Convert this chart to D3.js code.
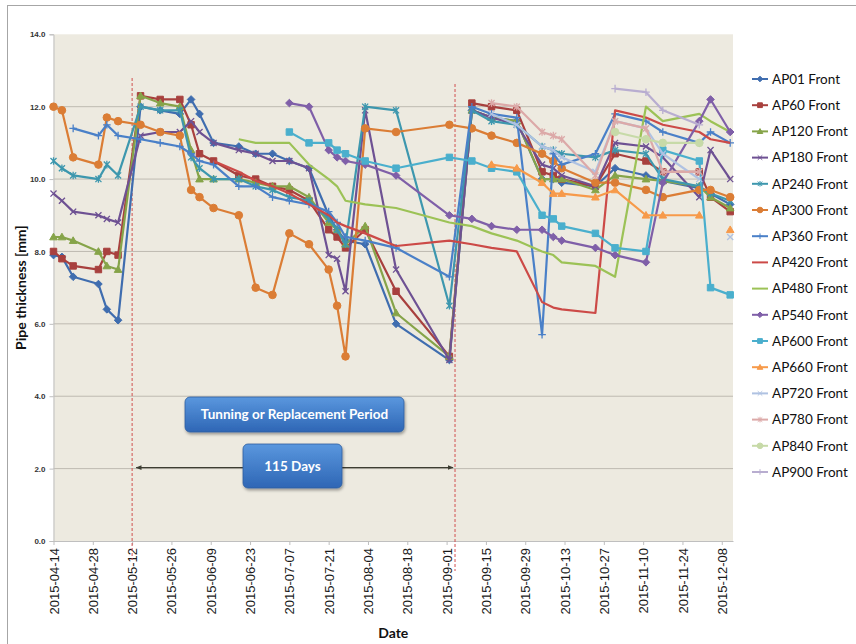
<!DOCTYPE html>
<html>
<head>
<meta charset="utf-8">
<script src="https://cdn.jsdelivr.net/npm/d3@7"></script>
<style>
body{margin:0;background:#fff;}
svg{display:block;}
</style>
</head>
<body>
<div id="chart"></div>
<script>
// measurement dates (shared by all series)
const dates = ["2015-04-14","2015-04-17","2015-04-21","2015-04-30","2015-05-03","2015-05-07",
  "2015-05-15","2015-05-22","2015-05-29","2015-06-02","2015-06-05","2015-06-10",
  "2015-06-19","2015-06-25","2015-07-01","2015-07-07","2015-07-14","2015-07-21",
  "2015-07-24","2015-07-27","2015-08-03","2015-08-14","2015-09-02","2015-09-10",
  "2015-09-17","2015-09-26","2015-10-05","2015-10-09","2015-10-12","2015-10-24",
  "2015-10-31","2015-11-11","2015-11-17","2015-11-30","2015-12-04","2015-12-11"];

const _ = null;
const AP01  = [7.9,7.85,7.3,7.1,6.4,6.1, 12.0,11.9,11.8,12.2,11.8,11.0, 10.9,10.7,10.7,10.5,10.3,9.0, 8.6,8.3,8.2,6.0,5.0,11.9, 11.7,11.6,10.0,10.0,9.9,9.8, 10.3,10.1,9.95,9.75,9.6,9.3];
const AP60  = [8.0,7.8,7.6,7.5,8.0,7.9, 12.3,12.2,12.2,11.5,10.7,10.5, 10.1,10.0,9.8,9.7,9.4,8.6, 8.4,8.1,8.6,6.9,5.1,12.1, 12.0,11.9,10.2,10.1,10.0,9.8, 10.7,10.5,10.2,10.2,9.5,9.1];
const AP120 = [8.4,8.4,8.3,8.0,7.6,7.5, 12.3,12.1,12.0,10.8,10.0,10.0, 10.0,9.9,9.8,9.8,9.5,8.8, 8.6,8.2,8.7,6.3,5.1,11.9, 11.7,11.6,10.0,10.0,10.0,9.7, 10.1,10.0,9.95,9.8,9.5,9.2];
const AP180 = [9.6,9.4,9.1,9.0,8.9,8.8, 11.2,11.3,11.3,11.6,11.3,11.0, 10.8,10.7,10.5,10.5,10.3,7.9, 7.8,6.9,11.9,7.5,5.0,11.9, 11.7,11.5,10.4,10.3,10.1,9.8, 11.0,10.9,10.6,9.5,10.8,10.0];
const AP240 = [10.5,10.3,10.1,10.0,10.4,10.1, 12.0,11.9,11.9,10.6,10.3,10.0, 10.0,9.8,9.7,9.5,9.4,8.9, 8.6,8.2,12.0,11.9,6.5,11.9, 11.6,11.5,10.9,10.8,10.7,10.6, 10.8,10.7,10.0,9.8,9.6,9.4];
const AP300 = [12.0,11.9,10.6,10.4,11.7,11.6, 11.5,11.3,11.2,9.7,9.5,9.2, 9.0,7.0,6.8,8.5,8.2,7.5, 6.5,5.1,11.4,11.3,11.5,11.4, 11.2,11.0,10.7,10.5,10.3,9.9, 9.9,9.7,9.5,9.7,9.7,9.5];
const AP360 = [_,_,11.4,11.2,11.5,11.2, 11.1,11.0,10.9,10.7,10.5,10.4, 9.8,9.8,9.5,9.4,9.3,9.1, 8.8,8.4,8.3,8.1,7.3,12.0, 11.8,11.7,5.7,10.7,10.4,10.7, 11.8,11.6,11.3,11.0,11.3,11.0];
const AP420 = [_,_,_,_,_,_, _,_,_,_,_,10.5, 10.2,9.95,9.8,9.6,9.3,9.0, 8.8,8.7,8.5,8.15,8.3,8.2, 8.1,8.0,6.6,6.45,6.4,6.3, 11.9,11.7,11.5,11.3,11.1,11.0];
const AP480 = [_,_,_,_,_,_, _,_,_,_,_,_, 11.1,11.0,11.0,11.0,10.4,10.0, 9.8,9.4,9.3,9.2,8.8,8.7, 8.5,8.3,8.0,7.9,7.7,7.6, 7.3,12.0,11.6,11.8,11.6,11.3];
const AP540 = [_,_,_,_,_,_, _,_,_,_,_,_, _,_,_,12.1,12.0,10.8, 10.6,10.5,10.4,10.1,9.0,8.9, 8.7,8.6,8.6,8.4,8.3,8.1, 7.9,7.7,9.9,11.6,12.2,11.3];
const AP600 = [_,_,_,_,_,_, _,_,_,_,_,_, _,_,_,11.3,11.0,11.0, 10.8,10.7,10.5,10.3,10.6,10.5, 10.3,10.2,9.0,8.9,8.7,8.5, 8.1,8.0,10.8,10.5,7.0,6.8];
const AP660 = [_,_,_,_,_,_, _,_,_,_,_,_, _,_,_,_,_,_, _,_,_,_,_,_, 10.4,10.3,9.9,9.6,9.6,9.5, 9.7,9.0,9.0,9.0,_,8.6];
const AP720 = [_,_,_,_,_,_, _,_,_,_,_,_, _,_,_,_,_,_, _,_,_,_,_,_, 11.8,11.5,10.9,10.8,10.6,10.2, 11.6,11.4,10.7,10.0,_,8.4];
const AP780 = [_,_,_,_,_,_, _,_,_,_,_,_, _,_,_,_,_,_, _,_,_,_,_,_, 12.1,12.0,11.3,11.2,11.1,10.1, 11.6,11.4,10.2,10.2,_,_];
const AP840 = [_,_,_,_,_,_, _,_,_,_,_,_, _,_,_,_,_,_, _,_,_,_,_,_, _,_,_,_,_,_, 11.3,11.1,11.0,11.0,_,_];
const AP900 = [_,_,_,_,_,_, _,_,_,_,_,_, _,_,_,_,_,_, _,_,_,_,_,_, _,_,_,_,_,_, 12.5,12.4,11.9,11.5,_,_];

const seriesNames = ["AP01 Front","AP60 Front","AP120 Front","AP180 Front","AP240 Front","AP300 Front",
  "AP360 Front","AP420 Front","AP480 Front","AP540 Front","AP600 Front","AP660 Front",
  "AP720 Front","AP780 Front","AP840 Front","AP900 Front"];
const seriesValues = [AP01,AP60,AP120,AP180,AP240,AP300,AP360,AP420,AP480,AP540,AP600,AP660,AP720,AP780,AP840,AP900];
const seriesColors = ["#3F6DAF","#A8403E","#86A449","#6E5193","#3D97AE","#DB7D35",
  "#4A80C8","#CC4A47","#9CC256","#7F5FA8","#4AAFCD","#F79A4A",
  "#AFC2E2","#DCA9A8","#C7DAA8","#B8ADD0"];
const seriesMarkers = ["diamond","square","triangle","x","star","circle",
  "plus","none","none","diamond","square","triangle",
  "x","star","circle","plus"];

const yTicks = [0,2,4,6,8,10,12,14];
const xTicks = ["2015-04-14","2015-04-28","2015-05-12","2015-05-26","2015-06-09","2015-06-23",
  "2015-07-07","2015-07-21","2015-08-04","2015-08-18","2015-09-01","2015-09-15",
  "2015-09-29","2015-10-13","2015-10-27","2015-11-10","2015-11-24","2015-12-08"];
const periodLines = ["2015-05-12","2015-09-04"];
const xDomain = ["2015-04-14","2015-12-12"];

const parse = d3.timeParse("%Y-%m-%d");
const W = 856, H = 644;
const plot = {left: 53.5, right: 733, top: 34.3, bottom: 541};

const svg = d3.select("#chart").append("svg")
    .attr("width", W).attr("height", H)
    .style("font-family", "'Liberation Sans', Arial, sans-serif");

const defs = svg.append("defs");
const grad = defs.append("linearGradient").attr("id","boxGrad")
    .attr("x1",0).attr("y1",0).attr("x2",0).attr("y2",1);
grad.append("stop").attr("offset","0%").attr("stop-color","#5A97DE");
grad.append("stop").attr("offset","100%").attr("stop-color","#2E66B5");
const shadow = defs.append("filter").attr("id","shadow")
    .attr("x","-10%").attr("y","-20%").attr("width","130%").attr("height","160%");
shadow.append("feDropShadow").attr("dx",1).attr("dy",2).attr("stdDeviation",1.6)
    .attr("flood-color","#000").attr("flood-opacity",0.35);
defs.append("marker").attr("id","arrowEnd").attr("viewBox","0 0 10 10")
    .attr("refX",9).attr("refY",5).attr("markerWidth",5).attr("markerHeight",5)
    .attr("orient","auto-start-reverse")
  .append("path").attr("d","M0,1L10,5L0,9Z").attr("fill","#3d3d32");

// outer frame
svg.append("rect")
    .attr("x",7.5).attr("y",5.5).attr("width",870).attr("height",660)
    .attr("fill","#fff").attr("stroke","#a6a6a6");

const x = d3.scaleTime().domain(xDomain.map(parse)).range([plot.left, plot.right]);
const y = d3.scaleLinear().domain([0,14]).range([plot.bottom, plot.top]);

// plot background
svg.append("rect")
    .attr("x",plot.left).attr("y",plot.top)
    .attr("width",plot.right-plot.left).attr("height",plot.bottom-plot.top)
    .attr("fill","#EDEAE0");

// gridlines
svg.append("g")
  .selectAll("line")
  .data(yTicks.filter(d => d > 0 && d < 14))
  .join("line")
    .attr("x1",plot.left).attr("x2",plot.right)
    .attr("y1",d => y(d)).attr("y2",d => y(d))
    .attr("stroke","#BEBAB1").attr("stroke-width",1);

// y axis
const yAxis = svg.append("g")
    .attr("transform",`translate(${plot.left},0)`)
    .call(d3.axisLeft(y).tickValues(yTicks).tickFormat(d3.format(".1f")).tickSize(4).tickPadding(4));
yAxis.select(".domain").attr("stroke","#BFBFBF");
yAxis.selectAll(".tick line").attr("stroke","#BFBFBF");
yAxis.selectAll(".tick text")
    .attr("font-size",8).attr("font-weight","bold").attr("fill","#333")
    .attr("font-family","'Liberation Sans', Arial, sans-serif");

// x axis
const xAxis = svg.append("g")
    .attr("transform",`translate(0,${plot.bottom})`)
    .call(d3.axisBottom(x).tickValues(xTicks.map(parse)).tickFormat(d3.timeFormat("%Y-%m-%d")).tickSize(4).tickSizeOuter(0));
xAxis.select(".domain").attr("stroke","#BFBFBF");
xAxis.selectAll(".tick line").attr("stroke","#BFBFBF");
xAxis.selectAll(".tick text")
    .attr("font-size",13).attr("fill","#1a1a1a")
    .attr("font-family","'Liberation Sans', Arial, sans-serif")
    .attr("text-anchor","end")
    .attr("transform","rotate(-90)")
    .attr("x",-7).attr("y",0).attr("dy","0.35em");

// axis titles
svg.append("text")
    .attr("transform",`translate(26,${(plot.top+plot.bottom)/2}) rotate(-90)`)
    .attr("text-anchor","middle")
    .attr("font-family","Lato, 'Open Sans', sans-serif")
    .attr("font-weight","bold").attr("font-size",14).attr("fill","#111")
    .text("Pipe thickness [mm]");
svg.append("text")
    .attr("x",(plot.left+plot.right)/2).attr("y",638)
    .attr("text-anchor","middle")
    .attr("font-family","Lato, 'Open Sans', sans-serif")
    .attr("font-weight","bold").attr("font-size",14).attr("fill","#111")
    .text("Date");

// period dashed lines
const dashTops = [78, 84], dashBottoms = [560, 571];
svg.append("g")
  .selectAll("line")
  .data(periodLines)
  .join("line")
    .attr("x1",d => x(parse(d))).attr("x2",d => x(parse(d)))
    .attr("y1",(d,i) => dashTops[i]).attr("y2",(d,i) => dashBottoms[i])
    .attr("stroke","#D0504F").attr("stroke-width",1)
    .attr("stroke-dasharray","3,2");

function markerPath(type, r) {
  switch (type) {
    case "diamond": return `M0,${-r}L${r},0L0,${r}L${-r},0Z`;
    case "square": return `M${-r*0.85},${-r*0.85}H${r*0.85}V${r*0.85}H${-r*0.85}Z`;
    case "triangle": return `M0,${-r}L${r},${r*0.75}H${-r}Z`;
    case "circle": return d3.symbol(d3.symbolCircle, Math.PI*r*r)();
    case "x": return `M${-r*0.8},${-r*0.8}L${r*0.8},${r*0.8}M${-r*0.8},${r*0.8}L${r*0.8},${-r*0.8}`;
    case "star": return `M${-r*0.8},${-r*0.8}L${r*0.8},${r*0.8}M${-r*0.8},${r*0.8}L${r*0.8},${-r*0.8}M0,${-r}V${r}`;
    case "plus": return `M${-r},0H${r}M0,${-r}V${r}`;
  }
  return null;
}
const openMarker = t => t === "x" || t === "star" || t === "plus";

const line = d3.line()
    .defined(d => d.v != null)
    .x(d => x(d.date))
    .y(d => y(d.v));

const series = seriesNames.map((name,i) => ({
  name, color: seriesColors[i], marker: seriesMarkers[i],
  points: dates.map((d,j) => ({date: parse(d), v: seriesValues[i][j]}))
}));

const gSeries = svg.append("g")
  .selectAll("g")
  .data(series)
  .join("g");

gSeries.append("path")
    .attr("fill","none")
    .attr("stroke",d => d.color)
    .attr("stroke-width",2.2)
    .attr("stroke-linejoin","round")
    .attr("d",d => line(d.points));

gSeries.each(function(s) {
  if (s.marker === "none") return;
  d3.select(this).selectAll("path.mk")
    .data(s.points.filter(p => p.v != null))
    .join("path")
      .attr("class","mk")
      .attr("transform",p => `translate(${x(p.date)},${y(p.v)})`)
      .attr("d",markerPath(s.marker, 3.8))
      .attr("fill",openMarker(s.marker) ? "none" : s.color)
      .attr("stroke",s.color)
      .attr("stroke-width",openMarker(s.marker) ? 1.3 : 1);
});

// annotations
const ann = svg.append("g").attr("font-family","Lato, 'Open Sans', sans-serif");
ann.append("line")
    .attr("x1",x(parse(periodLines[0]))+4).attr("x2",x(parse(periodLines[1]))-2)
    .attr("y1",y(2)-1).attr("y2",y(2)-1)
    .attr("stroke","#3d3d32").attr("stroke-width",1.2)
    .attr("marker-start","url(#arrowEnd)").attr("marker-end","url(#arrowEnd)");

const boxes = [
  {x:185, y:397, w:219, h:35, text:"Tunning or Replacement Period"},
  {x:243, y:444, w:99, h:44, text:"115 Days"}
];
ann.selectAll("rect.box")
  .data(boxes)
  .join("rect")
    .attr("class","box")
    .attr("x",d => d.x).attr("y",d => d.y)
    .attr("width",d => d.w).attr("height",d => d.h)
    .attr("rx",5)
    .attr("fill","url(#boxGrad)")
    .attr("stroke","#2D5E9E").attr("stroke-width",0.8)
    .attr("filter","url(#shadow)");
ann.selectAll("text.box")
  .data(boxes)
  .join("text")
    .attr("class","box")
    .attr("x",d => d.x + d.w/2).attr("y",d => d.y + d.h/2)
    .attr("dy","0.35em")
    .attr("text-anchor","middle")
    .attr("fill","#fff").attr("font-weight","bold").attr("font-size",13.5)
    .text(d => d.text);

// legend
const legend = svg.append("g")
  .selectAll("g")
  .data(series)
  .join("g")
    .attr("transform",(d,i) => `translate(752,${79 + i*26.2})`);
legend.append("line")
    .attr("x1",0).attr("x2",16)
    .attr("stroke",d => d.color).attr("stroke-width",2);
legend.filter(d => d.marker !== "none").append("path")
    .attr("transform","translate(8,0)")
    .attr("d",d => markerPath(d.marker, 2.8))
    .attr("fill",d => openMarker(d.marker) ? "none" : d.color)
    .attr("stroke",d => d.color).attr("stroke-width",1);
legend.append("text")
    .attr("x",20).attr("dy","0.35em")
    .attr("font-family","Lato, 'Open Sans', sans-serif")
    .attr("font-size",13.5).attr("fill","#111")
    .text(d => d.name);
</script>
</body>
</html>
